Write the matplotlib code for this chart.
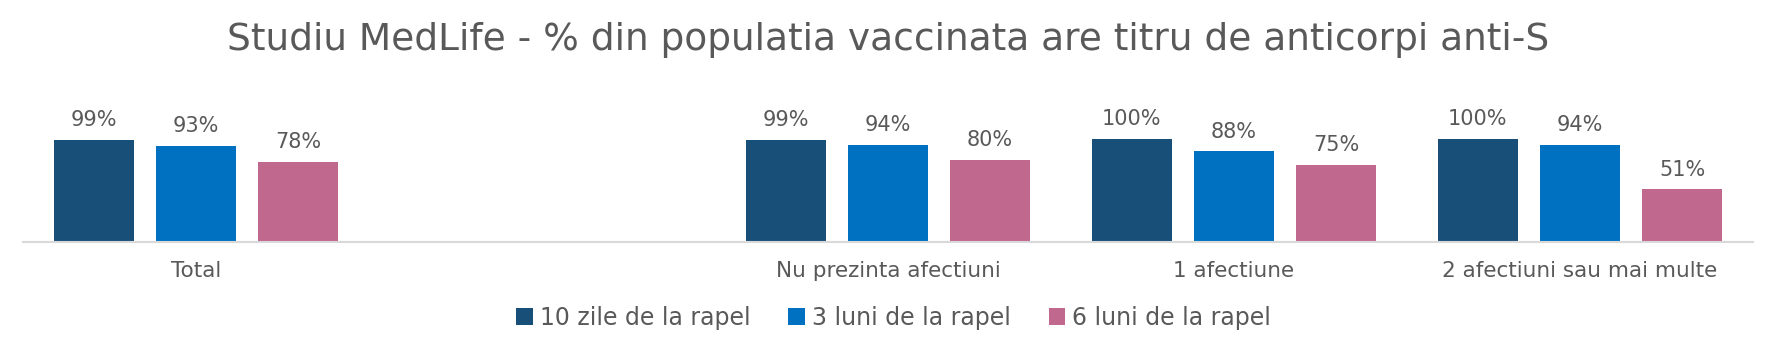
import matplotlib
matplotlib.use("Agg")
import matplotlib.pyplot as plt
import numpy as np

categories = ["Total", "", "Nu prezinta afectiuni", "1 afectiune", "2 afectiuni sau mai multe"]
series_names = ["10 zile de la rapel", "3 luni de la rapel", "6 luni de la rapel"]
zile10 = [0.99, None, 0.99, 1.00, 1.00]
luni3 = [0.93, None, 0.94, 0.88, 0.94]
luni6 = [0.78, None, 0.80, 0.75, 0.51]
colors = ["#174F79", "#0070C0", "#C0688E"]

TXT = "#595959"
plt.rcParams["font.family"] = ["DejaVu Sans"]

fig = plt.figure(figsize=(17.77, 3.51), dpi=100)
ax = fig.add_axes([23 / 1777, 109 / 351, 1730 / 1777, 128.75 / 351])

x = np.arange(len(categories))
width = 0.231
step = 0.295
for i, (vals, name, col) in enumerate(zip([zile10, luni3, luni6], series_names, colors)):
    xs = [xi + (i - 1) * step for xi, v in zip(x, vals) if v is not None]
    vs = [v for v in vals if v is not None]
    bars = ax.bar(xs, vs, width, color=col, label=name)
    for b, v in zip(bars, vs):
        ax.annotate(f"{v:.0%}", (b.get_x() + b.get_width() / 2, v),
                    xytext=(0, 7), textcoords="offset points",
                    ha="center", va="bottom", fontsize=15, color=TXT)

ax.set_xlim(-0.5, len(categories) - 0.5)
ax.set_ylim(0, 1.25)
ax.set_xticks(x)
ax.set_xticklabels(categories, fontsize=15.5, color=TXT)
ax.tick_params(axis="x", length=0, pad=14)
ax.set_yticks([])
for s in ["top", "right", "left"]:
    ax.spines[s].set_visible(False)
ax.spines["bottom"].set_color("#D9D9D9")
ax.spines["bottom"].set_linewidth(1.5)

fig.text(0.5, 0.885, "Studiu MedLife - % din populatia vaccinata are titru de anticorpi anti-S",
         ha="center", va="center", fontsize=27, color=TXT)

leg = fig.legend(loc="center", bbox_to_anchor=(0.503, 0.094), ncol=3, frameon=False,
                 fontsize=17, handlelength=0.7, handleheight=0.7, handletextpad=0.3,
                 columnspacing=1.6)
for t in leg.get_texts():
    t.set_color(TXT)

fig.savefig("out.png", dpi=100)
